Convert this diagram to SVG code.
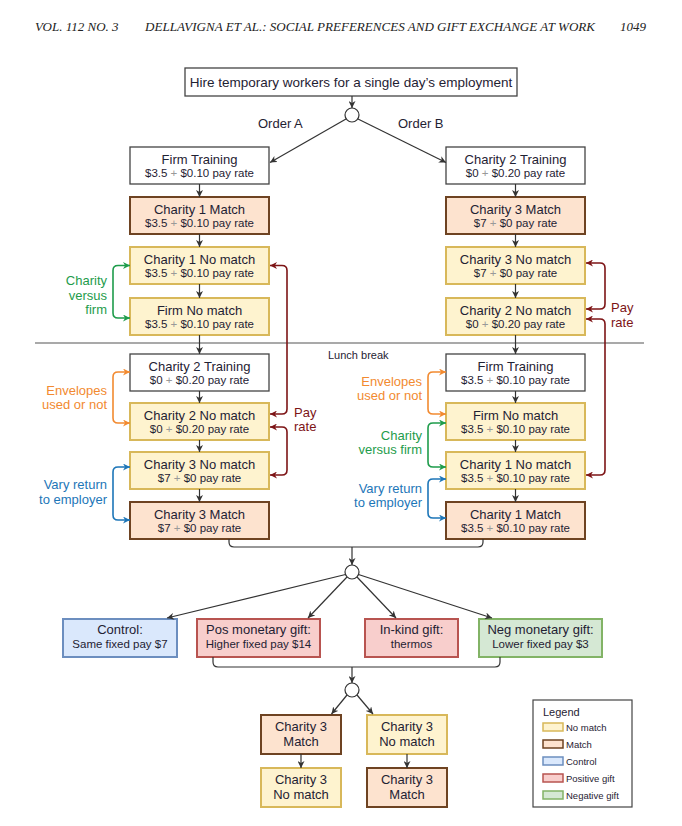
<svg xmlns="http://www.w3.org/2000/svg" width="682" height="826" viewBox="0 0 682 826">
<style>
text{font-family:"Liberation Sans",Arial,sans-serif;fill:#1f2233}
.hd{font-family:"Liberation Serif","Times New Roman",serif;font-style:italic;font-size:13px;fill:#222}
.t{font-size:13px;text-anchor:middle}
.s{font-size:11.5px;text-anchor:middle}
.p{fill:#999}
.lbl{font-size:13px}
.r{text-anchor:end}
.wh{fill:#fff;stroke:#444;stroke-width:1.3}
.nm{fill:#fef3cf;stroke:#d8b85a;stroke-width:2}
.mt{fill:#fde3cf;stroke:#6e4322;stroke-width:2}
.ct{fill:#dae8fc;stroke:#6c8ebf;stroke-width:2}
.pg{fill:#f8cecc;stroke:#b85450;stroke-width:2}
.ng{fill:#d5e8d4;stroke:#82b366;stroke-width:2}
.ln{fill:none;stroke:#333;stroke-width:1.2}
.ar{fill:none;stroke:#333;stroke-width:1.2;marker-end:url(#ak)}
.gr{fill:none;stroke:#1e9c4b;stroke-width:1.6;marker-start:url(#ag);marker-end:url(#ag)}
.or{fill:none;stroke:#f28a30;stroke-width:1.6;marker-start:url(#ao);marker-end:url(#ao)}
.bl{fill:none;stroke:#1d76b8;stroke-width:1.6;marker-start:url(#ab);marker-end:url(#ab)}
.rd{fill:none;stroke:#7d1416;stroke-width:1.6;marker-start:url(#ar);marker-end:url(#ar)}
.cir{fill:#fff;stroke:#333;stroke-width:1.2}
</style>
<defs>
<marker id="ak" viewBox="0 0 10 10" refX="10" refY="5" markerWidth="7" markerHeight="7" markerUnits="userSpaceOnUse" orient="auto-start-reverse"><path d="M0,0 L10,5 L0,10 L3,5 z" fill="#333"/></marker>
<marker id="ag" viewBox="0 0 10 10" refX="10" refY="5" markerWidth="7" markerHeight="7" markerUnits="userSpaceOnUse" orient="auto-start-reverse"><path d="M0,0 L10,5 L0,10 L3,5 z" fill="#1e9c4b"/></marker>
<marker id="ao" viewBox="0 0 10 10" refX="10" refY="5" markerWidth="7" markerHeight="7" markerUnits="userSpaceOnUse" orient="auto-start-reverse"><path d="M0,0 L10,5 L0,10 L3,5 z" fill="#f28a30"/></marker>
<marker id="ab" viewBox="0 0 10 10" refX="10" refY="5" markerWidth="7" markerHeight="7" markerUnits="userSpaceOnUse" orient="auto-start-reverse"><path d="M0,0 L10,5 L0,10 L3,5 z" fill="#1d76b8"/></marker>
<marker id="ar" viewBox="0 0 10 10" refX="10" refY="5" markerWidth="7" markerHeight="7" markerUnits="userSpaceOnUse" orient="auto-start-reverse"><path d="M0,0 L10,5 L0,10 L3,5 z" fill="#7d1416"/></marker>
</defs>
<rect width="682" height="826" fill="#fff"/>

<g id="header">
<text class="hd" x="35" y="31">VOL. 112 NO. 3</text>
<text class="hd" x="145" y="31" textLength="450" lengthAdjust="spacingAndGlyphs">DELLAVIGNA ET AL.: SOCIAL PREFERENCES AND GIFT EXCHANGE AT WORK</text>
<text class="hd" x="620" y="31">1049</text>
</g>

<g id="hire"><rect class="wh" x="185" y="68" width="332" height="28"/><text x="351" y="87" style="font-size:13.5px;text-anchor:middle">Hire temporary workers for a single day’s employment</text></g>
<g id="split1"><circle class="cir" cx="352" cy="115" r="7"/></g>
<text class="lbl" x="258" y="128">Order A</text>
<text class="lbl" x="398" y="128">Order B</text>

<!-- left column, before lunch -->
<g id="A1"><rect class="wh" x="130" y="147" width="139" height="37"/><text class="t" x="199.5" y="163.5">Firm Training</text><text class="s" x="199.5" y="176.5">$3.5 <tspan class="p">+</tspan> $0.10 pay rate</text></g>
<g id="A2"><rect class="mt" x="130" y="197" width="139" height="37"/><text class="t" x="199.5" y="213.5">Charity 1 Match</text><text class="s" x="199.5" y="226.5">$3.5 <tspan class="p">+</tspan> $0.10 pay rate</text></g>
<g id="A3"><rect class="nm" x="130" y="247" width="139" height="37"/><text class="t" x="199.5" y="263.5">Charity 1 No match</text><text class="s" x="199.5" y="276.5">$3.5 <tspan class="p">+</tspan> $0.10 pay rate</text></g>
<g id="A4"><rect class="nm" x="130" y="298" width="139" height="37"/><text class="t" x="199.5" y="314.5">Firm No match</text><text class="s" x="199.5" y="327.5">$3.5 <tspan class="p">+</tspan> $0.10 pay rate</text></g>
<!-- left column, after lunch -->
<g id="A5"><rect class="wh" x="130" y="354" width="139" height="37"/><text class="t" x="199.5" y="370.5">Charity 2 Training</text><text class="s" x="199.5" y="383.5">$0 <tspan class="p">+</tspan> $0.20 pay rate</text></g>
<g id="A6"><rect class="nm" x="130" y="403" width="139" height="37"/><text class="t" x="199.5" y="419.5">Charity 2 No match</text><text class="s" x="199.5" y="432.5">$0 <tspan class="p">+</tspan> $0.20 pay rate</text></g>
<g id="A7"><rect class="nm" x="130" y="452" width="139" height="37"/><text class="t" x="199.5" y="468.5">Charity 3 No match</text><text class="s" x="199.5" y="481.5">$7 <tspan class="p">+</tspan> $0 pay rate</text></g>
<g id="A8"><rect class="mt" x="130" y="502" width="139" height="37"/><text class="t" x="199.5" y="518.5">Charity 3 Match</text><text class="s" x="199.5" y="531.5">$7 <tspan class="p">+</tspan> $0 pay rate</text></g>

<!-- right column -->
<g id="B1"><rect class="wh" x="446" y="147" width="139" height="37"/><text class="t" x="515.5" y="163.5">Charity 2 Training</text><text class="s" x="515.5" y="176.5">$0 <tspan class="p">+</tspan> $0.20 pay rate</text></g>
<g id="B2"><rect class="mt" x="446" y="197" width="139" height="37"/><text class="t" x="515.5" y="213.5">Charity 3 Match</text><text class="s" x="515.5" y="226.5">$7 <tspan class="p">+</tspan> $0 pay rate</text></g>
<g id="B3"><rect class="nm" x="446" y="247" width="139" height="37"/><text class="t" x="515.5" y="263.5">Charity 3 No match</text><text class="s" x="515.5" y="276.5">$7 <tspan class="p">+</tspan> $0 pay rate</text></g>
<g id="B4"><rect class="nm" x="446" y="298" width="139" height="37"/><text class="t" x="515.5" y="314.5">Charity 2 No match</text><text class="s" x="515.5" y="327.5">$0 <tspan class="p">+</tspan> $0.20 pay rate</text></g>
<g id="B5"><rect class="wh" x="446" y="354" width="139" height="37"/><text class="t" x="515.5" y="370.5">Firm Training</text><text class="s" x="515.5" y="383.5">$3.5 <tspan class="p">+</tspan> $0.10 pay rate</text></g>
<g id="B6"><rect class="nm" x="446" y="403" width="139" height="37"/><text class="t" x="515.5" y="419.5">Firm No match</text><text class="s" x="515.5" y="432.5">$3.5 <tspan class="p">+</tspan> $0.10 pay rate</text></g>
<g id="B7"><rect class="nm" x="446" y="452" width="139" height="37"/><text class="t" x="515.5" y="468.5">Charity 1 No match</text><text class="s" x="515.5" y="481.5">$3.5 <tspan class="p">+</tspan> $0.10 pay rate</text></g>
<g id="B8"><rect class="mt" x="446" y="502" width="139" height="37"/><text class="t" x="515.5" y="518.5">Charity 1 Match</text><text class="s" x="515.5" y="531.5">$3.5 <tspan class="p">+</tspan> $0.10 pay rate</text></g>

<!-- lunch break -->
<line x1="35" y1="343" x2="644" y2="343" stroke="#555" stroke-width="1.2"/>
<text x="328" y="359" style="font-size:11px">Lunch break</text>

<!-- gift split -->
<g id="split2"><circle class="cir" cx="352" cy="572" r="7"/></g>
<g id="G1"><rect class="ct" x="63" y="619" width="114" height="38"/><text class="t" x="120" y="634">Control:</text><text class="s" x="120" y="648">Same fixed pay $7</text></g>
<g id="G2"><rect class="pg" x="197" y="619" width="123" height="38"/><text class="t" x="258.5" y="634">Pos monetary gift:</text><text class="s" x="258.5" y="648">Higher fixed pay $14</text></g>
<g id="G3"><rect class="pg" x="365" y="619" width="93" height="38"/><text class="t" x="411.5" y="634">In-kind gift:</text><text class="s" x="411.5" y="648">thermos</text></g>
<g id="G4"><rect class="ng" x="479" y="619" width="123" height="38"/><text class="t" x="540.5" y="634">Neg monetary gift:</text><text class="s" x="540.5" y="648">Lower fixed pay $3</text></g>

<!-- final split -->
<g id="split3"><circle class="cir" cx="352" cy="690" r="7"/></g>
<g id="C1"><rect class="mt" x="261" y="715" width="80" height="39"/><text class="t" x="301" y="731">Charity 3</text><text class="t" x="301" y="745.5">Match</text></g>
<g id="C2"><rect class="nm" x="367" y="715" width="80" height="39"/><text class="t" x="407" y="731">Charity 3</text><text class="t" x="407" y="745.5">No match</text></g>
<g id="C3"><rect class="nm" x="261" y="768" width="80" height="39"/><text class="t" x="301" y="784">Charity 3</text><text class="t" x="301" y="798.5">No match</text></g>
<g id="C4"><rect class="mt" x="367" y="768" width="80" height="39"/><text class="t" x="407" y="784">Charity 3</text><text class="t" x="407" y="798.5">Match</text></g>

<!-- legend -->
<g id="legend">
<rect x="533" y="700" width="99" height="107" fill="#fff" stroke="#444" stroke-width="1.2"/>
<text x="543" y="716" style="font-size:11px">Legend</text>
<rect class="nm" x="543" y="723" width="20" height="8" style="stroke-width:1.5"/><text x="566" y="731" style="font-size:9.5px">No match</text>
<rect class="mt" x="543" y="740" width="20" height="8" style="stroke-width:1.5"/><text x="566" y="748" style="font-size:9.5px">Match</text>
<rect class="ct" x="543" y="757" width="20" height="8" style="stroke-width:1.5"/><text x="566" y="765" style="font-size:9.5px">Control</text>
<rect class="pg" x="543" y="774" width="20" height="8" style="stroke-width:1.5"/><text x="566" y="782" style="font-size:9.5px">Positive gift</text>
<rect class="ng" x="543" y="791" width="20" height="8" style="stroke-width:1.5"/><text x="566" y="799" style="font-size:9.5px">Negative gift</text>
</g>

<!-- bracket labels -->
<g id="labels">
<text class="lbl r" x="107" y="284.5" style="fill:#1e9c4b">Charity</text>
<text class="lbl r" x="107" y="299.5" style="fill:#1e9c4b">versus</text>
<text class="lbl r" x="107" y="314" style="fill:#1e9c4b">firm</text>
<text class="lbl r" x="107" y="395" style="fill:#f28a30">Envelopes</text>
<text class="lbl r" x="107" y="409" style="fill:#f28a30">used or not</text>
<text class="lbl r" x="107" y="489" style="fill:#1d76b8">Vary return</text>
<text class="lbl r" x="107" y="503.5" style="fill:#1d76b8">to employer</text>
<text class="lbl" x="294" y="417" style="fill:#7d1416">Pay</text>
<text class="lbl" x="294" y="431" style="fill:#7d1416">rate</text>
<text class="lbl" x="611" y="312" style="fill:#7d1416">Pay</text>
<text class="lbl" x="611" y="326.5" style="fill:#7d1416">rate</text>
<text class="lbl r" x="422" y="386" style="fill:#f28a30">Envelopes</text>
<text class="lbl r" x="422" y="400" style="fill:#f28a30">used or not</text>
<text class="lbl r" x="422" y="440" style="fill:#1e9c4b">Charity</text>
<text class="lbl r" x="422" y="454" style="fill:#1e9c4b">versus firm</text>
<text class="lbl r" x="422" y="492.5" style="fill:#1d76b8">Vary return</text>
<text class="lbl r" x="422" y="507" style="fill:#1d76b8">to employer</text>
</g>

<g id="connectors">
<path class="ar" d="M352,96 V108"/>
<path class="ar" d="M346,119 L270,162.5"/>
<path class="ar" d="M358,119 L446,162.5"/>
<path class="ar" d="M199.5,184 V197"/>
<path class="ar" d="M199.5,234 V247"/>
<path class="ar" d="M199.5,284 V298"/>
<path class="ar" d="M199.5,335 V354"/>
<path class="ar" d="M199.5,391 V403"/>
<path class="ar" d="M199.5,440 V452"/>
<path class="ar" d="M199.5,489 V502"/>
<path class="ar" d="M515.5,184 V197"/>
<path class="ar" d="M515.5,234 V247"/>
<path class="ar" d="M515.5,284 V298"/>
<path class="ar" d="M515.5,335 V354"/>
<path class="ar" d="M515.5,391 V403"/>
<path class="ar" d="M515.5,440 V452"/>
<path class="ar" d="M515.5,489 V502"/>
<path class="ln" d="M229,539 V542 Q229,547 234,547 H478 Q483,547 483,542 V539"/>
<path class="ar" d="M352,547 V565"/>
<path class="ar" d="M345.5,574.5 L167,618"/>
<path class="ar" d="M347,577 L308,618"/>
<path class="ar" d="M357,577 L396,618"/>
<path class="ar" d="M358.5,574.5 L492,618"/>
<path class="ln" d="M213,657 V662 Q213,667 218,667 H495 Q500,667 500,662 V657"/>
<path class="ar" d="M352,667 V683"/>
<path class="ar" d="M347,695 L331.5,714"/>
<path class="ar" d="M357,695 L373,714"/>
<path class="ar" d="M301,754 V768"/>
<path class="ar" d="M407,754 V768"/>
<path class="gr" d="M130,265.5 H118 Q113,265.5 113,270.5 V313 Q113,318 118,318 H130"/>
<path class="or" d="M130,372 H118 Q113,372 113,377 V418 Q113,423 118,423 H130"/>
<path class="bl" d="M130,467 H118 Q113,467 113,472 V515 Q113,520 118,520 H130"/>
<path class="rd" d="M270,265.5 H282 Q287,265.5 287,270.5 V409 Q287,414 282,414 H270"/>
<path class="rd" d="M270,427 H282 Q287,427 287,432 V470 Q287,475 282,475 H270"/>
<path class="rd" d="M586,263 H600 Q605,263 605,268 V304 Q605,309 600,309 H586"/>
<path class="rd" d="M586,319 H600 Q605,319 605,324 V470 Q605,475 600,475 H586"/>
<path class="or" d="M446,372 H433 Q428,372 428,377 V409 Q428,414 433,414 H446"/>
<path class="gr" d="M446,423 H433 Q428,423 428,428 V462 Q428,467 433,467 H446"/>
<path class="bl" d="M446,479 H433 Q428,479 428,484 V513 Q428,518 433,518 H446"/>
</g>
</svg>
